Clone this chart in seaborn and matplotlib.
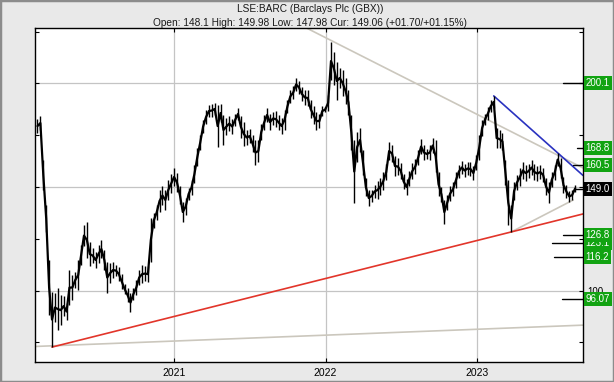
import numpy as np
import pandas as pd
import matplotlib
matplotlib.use("Agg")
import matplotlib.pyplot as plt
import matplotlib.dates as mdates
import matplotlib.transforms as mtransforms
from matplotlib.patches import Rectangle
import seaborn as sns

# ---------------- data (weekly high / low) ----------------
week_start = "2020-02-07"
highs = [182.8,184.3,163.0,141.3,114.7,99.3,98.8,101.2,97.8,97.3,
         93.9,109.9,107.5,109.0,114.7,122.0,131.6,133.1,123.4,120.5,
         118.6,122.0,124.4,119.6,113.8,113.3,113.8,112.3,111.3,108.0,
         103.1,101.2,98.8,101.2,105.1,109.9,112.3,111.8,111.8,135.0,
         137.4,141.3,148.6,150.5,148.6,153.4,156.3,159.2,156.8,150.5,
         142.8,144.7,149.5,153.4,160.6,168.8,175.1,182.4,187.2,189.6,
         190.1,190.6,189.6,190.1,184.8,183.3,184.3,182.8,185.2,188.2,
         184.3,181.4,177.5,178.0,175.1,172.7,172.7,180.4,184.8,188.2,
         185.2,186.2,186.7,184.8,183.3,187.2,192.0,196.9,198.8,202.7,
         201.2,198.3,196.9,196.9,192.0,189.1,186.2,185.2,189.1,188.6,
         194.4,220.0,215.2,210.4,207.5,206.5,202.7,196.9,184.8,172.7,
         176.6,178.5,167.9,154.3,148.6,148.6,151.0,152.9,154.3,157.2,
         161.1,171.7,170.3,165.0,164.0,161.6,156.3,153.9,157.7,161.6,
         163.5,167.9,173.2,170.3,168.4,170.3,173.7,172.7,157.2,150.0,
         143.7,146.1,150.5,152.4,157.2,160.6,162.6,161.1,162.1,162.1,
         160.1,165.5,175.1,182.4,185.3,188.6,192.0,194.0,178.5,177.5,
         176.1,163.0,153.4,141.3,152.4,155.8,159.2,162.1,160.6,161.1,
         163.0,161.1,160.1,160.6,159.2,154.3,152.4,157.2,160.6,166.4,
         164.0,154.8,151.0,148.1,148.6,151.0]
lows = [176.1,177.5,148.6,128.2,88.2,72.7,84.8,80.9,83.3,87.7,
        85.8,93.0,95.4,101.2,100.2,112.3,121.5,115.7,111.8,113.3,
        110.9,113.3,115.7,109.9,98.8,103.6,106.0,107.0,104.6,100.7,
        98.3,94.4,89.6,95.4,97.8,102.7,103.6,104.6,104.1,113.8,
        130.2,134.0,137.9,141.3,138.9,143.7,147.1,150.5,147.6,141.8,
        133.1,136.5,143.7,146.1,151.9,160.1,167.9,176.1,180.4,183.8,
        183.8,184.8,169.3,181.4,170.3,175.1,177.0,175.6,179.5,182.4,
        173.7,169.8,170.3,171.2,166.9,160.6,162.1,172.7,177.5,181.4,
        177.5,179.9,179.0,177.5,175.6,177.5,185.8,190.6,192.5,196.4,
        194.9,191.5,189.6,189.1,183.3,180.4,177.5,178.5,184.3,186.2,
        186.7,201.7,199.3,192.0,197.8,194.0,190.1,184.8,167.9,142.3,
        162.1,166.9,155.8,145.6,140.8,142.8,144.7,144.2,146.1,148.6,
        153.4,163.0,162.1,155.3,155.8,153.9,149.0,146.1,150.5,153.9,
        156.3,160.6,165.9,163.0,163.5,163.0,166.4,157.2,145.6,142.8,
        132.1,138.9,143.2,145.6,149.5,154.3,156.3,154.8,155.8,155.3,
        153.4,158.2,163.0,174.6,180.0,182.4,186.2,188.2,168.8,168.8,
        167.9,151.0,131.6,128.3,143.7,148.6,150.5,153.9,152.9,154.3,
        155.8,153.4,152.9,153.9,152.4,146.1,142.3,150.0,153.4,160.1,
        154.3,147.1,144.7,142.8,143.7,147.6]

# trend lines (date, price)
red_dates = ["2020-03-13", "2023-09-13"]
red_prices = [72.7, 137.0]
base_dates = ["2020-02-01", "2023-09-13"]
base_prices = [73.0, 83.3]
resist_dates = ["2021-11-10", "2023-09-13"]
resist_prices = [227.4, 159.2]
blue_dates = ["2023-02-10", "2023-09-13"]
blue_prices = [194.0, 155.6]
support_dates = ["2023-03-24", "2023-08-20"]
support_prices = [128.3, 143.7]

# right-hand target levels
ann_levels = [200.1, 168.8, 160.5, 123.1, 126.8, 116.2, 96.07]
ann_labels = ["200.1", "168.8", "160.5", "123.1", "126.8", "116.2", "96.07"]
cur_price = 149.06
cur_label = "149.0"

title1 = "LSE:BARC (Barclays Plc (GBX))"
title2 = "Open: 148.1 High: 149.98 Low: 147.98 Cur: 149.06 (+01.70/+01.15%)"
year_ticks = ["2021-01-01", "2022-01-01", "2023-01-01"]
year_labels = ["2021", "2022", "2023"]
y_major = [100, 150, 200]
y_label_vals = [100]          # 150 / 200 sit under the value boxes
y_minor = [75, 125, 175, 225]

# ---------------- drawing ----------------
sns.set_theme(style="white")
plt.rcParams["font.family"] = ["Liberation Sans", "DejaVu Sans"]

W, H = 614, 382
fig = plt.figure(figsize=(W / 100, H / 100), dpi=100, facecolor="#e9e9e9")
ax = fig.add_axes([35 / W, 1 - 362 / H, 548 / W, 334 / H])
ax.set_facecolor("white")

dates = pd.date_range(week_start, periods=len(highs), freq="W-FRI")
df = pd.DataFrame({"date": dates, "high": highs, "low": lows})
df["mid"] = (df["high"] + df["low"]) / 2

# gridlines
for d in pd.to_datetime(year_ticks):
    ax.axvline(d, color="#c4c4c4", lw=0.9, zorder=0)
for v in y_major:
    ax.axhline(v, color="#c4c4c4", lw=0.9, zorder=0)

# trend lines
def tline(dd, pp, color, lw=1.2, z=2):
    t = pd.DataFrame({"d": pd.to_datetime(dd), "p": pp})
    sns.lineplot(data=t, x="d", y="p", ax=ax, color=color, lw=lw, legend=False, zorder=z)

tline(base_dates, base_prices, "#cbc7bd")
tline(resist_dates, resist_prices, "#cbc7bd")
tline(support_dates, support_prices, "#cbc7bd")
tline(red_dates, red_prices, "#e2352a")
tline(blue_dates, blue_prices, "#2a32c0")

# price bars
ax.vlines(df["date"], df["low"], df["high"], color="black", lw=1.0, zorder=3)
sns.lineplot(data=df, x="date", y="mid", ax=ax, color="black", lw=1.6,
             legend=False, zorder=3)

ax.set_xlim(pd.Timestamp("2020-02-01"), pd.Timestamp("2023-09-13"))
ax.set_ylim(65.5, 226.8)
ax.set_xlabel("")
ax.set_ylabel("")

ax.set_xticks(pd.to_datetime(year_ticks))
ax.set_xticklabels(year_labels, fontsize=7.5, color="#111111")
ax.set_yticks(y_major)
ax.set_yticks(y_minor, minor=True)
ax.set_yticklabels([str(v) if v in y_label_vals else "" for v in y_major],
                   fontsize=7, color="#111111")
ax.yaxis.tick_right()
ax.tick_params(axis="y", which="both", direction="in", length=3, width=0.8,
               left=True, right=True, labelleft=False, labelright=True,
               colors="black", pad=3)
ax.tick_params(axis="x", direction="in", length=3, width=0.8, top=True,
               bottom=True, pad=4, colors="black")
ax.grid(False)
for s in ax.spines.values():
    s.set_color("black")
    s.set_linewidth(1.0)

trans = mtransforms.blended_transform_factory(ax.transAxes, ax.transData)
ann_line_from = [0.9635, 0.989, 0.982, 0.943, 0.9635, 0.947, 0.9617]
for lvl, lab, x0 in zip(ann_levels, ann_labels, ann_line_from):
    ax.plot([x0, 1.0], [lvl, lvl], transform=trans, color="black", lw=1.0,
            clip_on=False, zorder=6)
    ax.text(1.005, lvl, lab, transform=trans, ha="left", va="center", fontsize=7,
            color="white", zorder=7, clip_on=False,
            bbox=dict(boxstyle="square,pad=0.2", fc="#12a312", ec="none"))
ax.plot([0.985, 1.0], [cur_price, cur_price], transform=trans, color="black",
        lw=1.0, clip_on=False, zorder=6)
ax.text(1.005, cur_price, cur_label, transform=trans, ha="left", va="center",
        fontsize=7, color="white", zorder=7, clip_on=False,
        bbox=dict(boxstyle="square,pad=0.2", fc="black", ec="none"))

fig.text(0.505, 1 - 9.5 / H, title1, ha="center", va="center", fontsize=7.3, color="#1a1a1a")
fig.text(0.505, 1 - 22.5 / H, title2, ha="center", va="center", fontsize=7.3, color="#1a1a1a")

fig.patches.append(Rectangle((0, 0), 1, 1, transform=fig.transFigure, fill=False,
                             ec="#8c8c8c", lw=2.5, zorder=10))

fig.savefig("out.png", dpi=100, facecolor=fig.get_facecolor())
